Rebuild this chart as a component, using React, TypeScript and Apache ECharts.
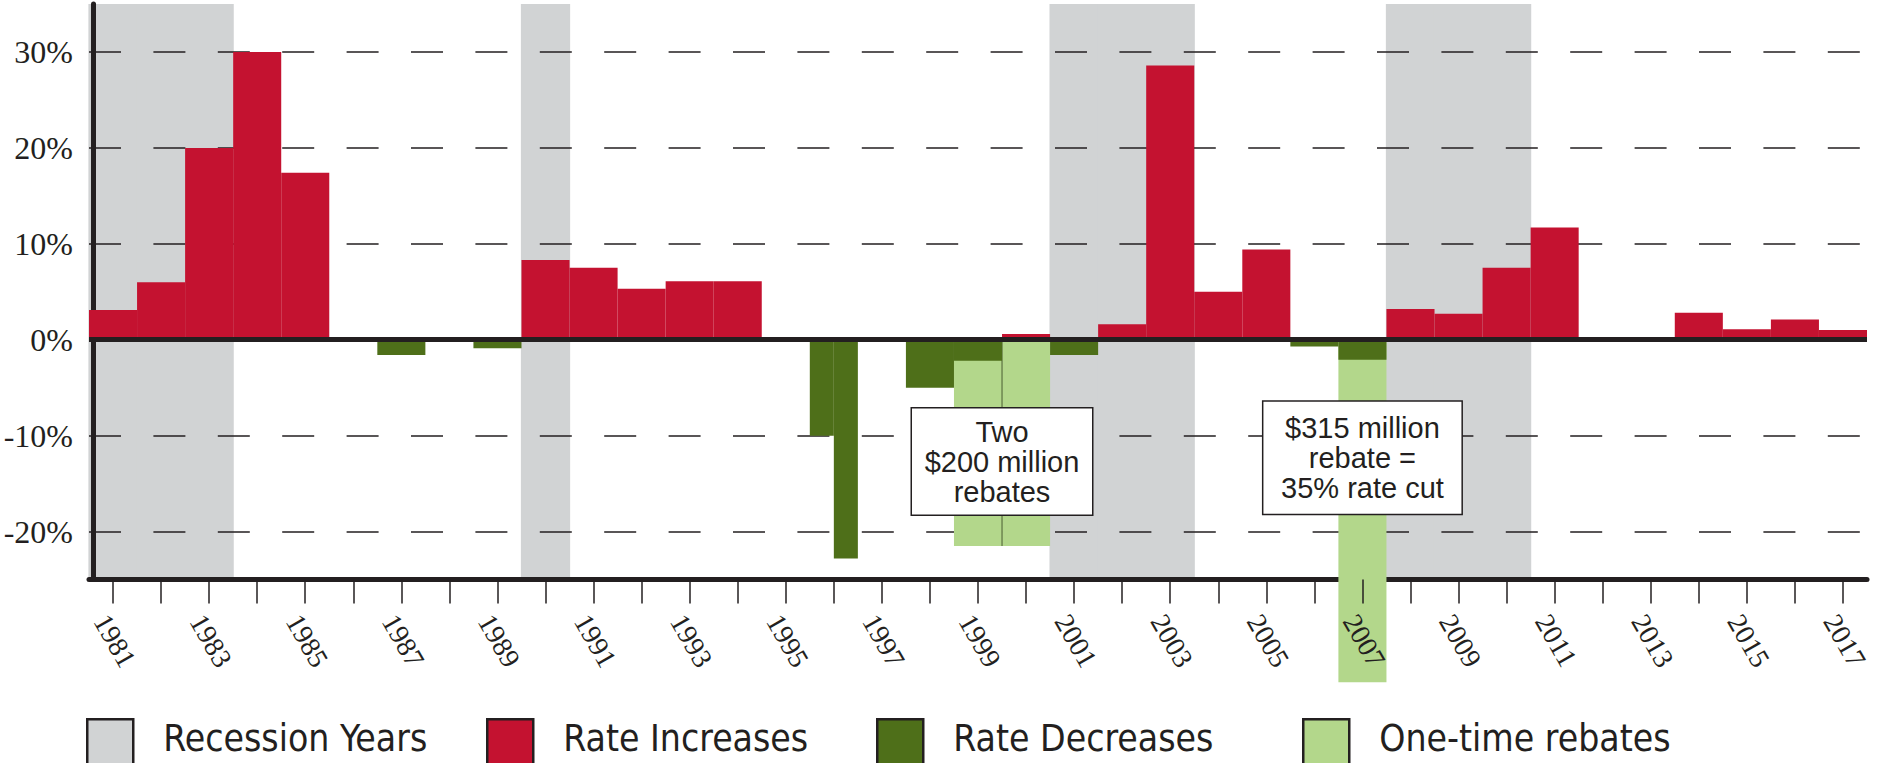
import React, { useEffect, useRef } from 'react';
import * as echarts from 'echarts';

// ---------- data ----------
const years = [
  '1981', '1982', '1983', '1984', '1985', '1986', '1987', '1988', '1989', '1990',
  '1991', '1992', '1993', '1994', '1995', '1996', '1997', '1998', '1999', '2000',
  '2001', '2002', '2003', '2004', '2005', '2006', '2007', '2008', '2009', '2010',
  '2011', '2012', '2013', '2014', '2015', '2016', '2017',
];

// Rate increases (%) per year, null = none
const rateIncreases = [
  3.1, 6.0, 20.0, 30.0, 17.4, null, null, null, null, 8.3,
  7.5, 5.3, 6.1, 6.1, null, null, null, null, null, 0.6,
  null, 1.6, 28.6, 5.0, 9.4, null, null, 3.2, 2.7, 7.5,
  11.7, null, null, 2.8, 1.1, 2.1, 1.0,
];

// Rate decreases (%); period: FY = whole year, H1/H2 = first/second half
const decreaseYears = ['1987', '1989', '1996', '1996', '1998', '1999', '2001', '2006', '2007'];
const decreaseValues = [-1.6, -0.9, -10.0, -22.8, -5.0, -2.2, -1.6, -0.7, -2.1];
const decreasePeriods = ['FY', 'FY', 'H1', 'H2', 'FY', 'FY', 'FY', 'FY', 'FY'];

// One-time rebates (%)
const rebateYears = ['1999', '2000', '2007'];
const rebateValues = [-21.5, -21.5, -35.7];

// Recession years
const recessionYears = ['1981', '1982', '1983', '1990', '2001', '2002', '2003', '2008', '2009', '2010'];

// Annotations
const noteTwoRebates = 'Two\n$200 million\nrebates';
const noteRebate2007 = '$315 million\nrebate =\n35% rate cut';

const legendNames = ['Recession Years', 'Rate Increases', 'Rate Decreases', 'One-time rebates'];

// ---------- styles ----------
const INK = '#231f20';
const RED = '#c41230';
const DARK_GREEN = '#4e6f19';
const LIGHT_GREEN = '#b3d78b';
const GRAY = '#d1d3d4';
const SERIF = '"Liberation Serif", "Times New Roman", serif';
const SANS = '"Liberation Sans", Arial, sans-serif';
const SANS_LEGEND = '"DejaVu Sans Condensed", "DejaVu Sans", sans-serif';

function rectBetween(api: any, idx: number, v: number, part: string) {
  const w = api.size([1, 0])[0];
  const p0 = api.coord([idx, 0]);
  const p1 = api.coord([idx, v]);
  let x = p0[0] - w / 2;
  let width = w;
  if (part === 'H1') width = w / 2;
  if (part === 'H2') {
    x = p0[0];
    width = w / 2;
  }
  return { x, y: Math.min(p0[1], p1[1]), width, height: Math.abs(p1[1] - p0[1]) };
}

export default function App() {
  const ref = useRef<HTMLDivElement>(null);

  useEffect(() => {
    if (!ref.current) return;
    const chart = echarts.init(ref.current, null, { renderer: 'svg' });

    const legendLefts = [86, 486, 876, 1302];

    const option: any = {
      animation: false,
      backgroundColor: '#ffffff',
      grid: {
        left: 89,
        right: 15,
        top: 4,
        bottom: 183.5,
        containLabel: false,
        outerBoundsMode: 'none',
      },
      xAxis: [
        {
          type: 'category',
          data: years,
          position: 'bottom',
          boundaryGap: true,
          axisLine: { show: true, onZero: false, lineStyle: { color: INK, width: 5 } },
          axisTick: { show: false },
          axisLabel: { show: false },
          splitLine: { show: false },
          z: 0,
        },
        {
          type: 'category',
          data: years,
          position: 'bottom',
          boundaryGap: true,
          axisLine: { show: false, onZero: false },
          axisTick: {
            show: true,
            alignWithLabel: true,
            interval: 0,
            length: 24,
            lineStyle: { color: INK, width: 1.5 },
          },
          axisLabel: {
            interval: 1,
            rotate: -60,
            margin: 30,
            align: 'left',
            verticalAlign: 'top',
            fontFamily: SERIF,
            fontSize: 28,
            color: INK,
            hideOverlap: false,
          },
          splitLine: { show: false },
          z: 10,
        },
      ],
      yAxis: {
        type: 'value',
        min: -25,
        max: 35,
        splitNumber: 6,
        offset: -4,
        axisLine: { show: true, lineStyle: { color: INK, width: 5 } },
        axisTick: { show: false },
        axisLabel: {
          fontFamily: SERIF,
          fontSize: 32,
          color: INK,
          margin: 20,
          showMinLabel: false,
          showMaxLabel: false,
          formatter: (v: number) => (v % 10 === 0 ? `${v}%` : ''),
        },
        splitLine: {
          show: true,
          showMinLine: false,
          showMaxLine: false,
          lineStyle: { color: INK, width: 1.5, type: [32, 32.4] },
        },
      },
      legend: legendNames.map((name, i) => ({
        show: true,
        data: [name],
        left: legendLefts[i],
        top: 718,
        orient: 'horizontal',
        itemWidth: 46,
        itemHeight: 48,
        itemGap: 0,
        padding: 0,
        selectedMode: false,
        icon: 'rect',
        itemStyle: { borderColor: INK, borderWidth: 2.5 },
        formatter: '{t|{name}}',
        textStyle: {
          rich: {
            t: {
              fontFamily: SANS_LEGEND,
              fontSize: 37,
              color: INK,
              padding: [0, 0, 10, 25],
            },
          },
        },
      })),
      series: [
        {
          name: 'Recession Years',
          type: 'custom',
          xAxisIndex: 0,
          z: -1,
          silent: true,
          itemStyle: { color: GRAY },
          data: recessionYears.map((y) => [y]),
          encode: { x: 0 },
          renderItem: (params: any, api: any) => {
            const idx = api.value(0);
            const w = api.size([1, 0])[0];
            const cx = api.coord([idx, 0])[0];
            const cs = params.coordSys;
            return {
              type: 'rect',
              shape: { x: cx - w / 2 - 0.6, y: cs.y, width: w + 1.2, height: cs.height },
              style: { fill: GRAY },
            };
          },
        },
        {
          name: 'Rate Increases',
          type: 'bar',
          xAxisIndex: 0,
          data: rateIncreases,
          barWidth: '100%',
          itemStyle: { color: RED },
          z: 2,
          markLine: {
            silent: true,
            symbol: ['none', 'none'],
            label: { show: false },
            lineStyle: { color: INK, width: 5, type: 'solid' },
            data: [{ yAxis: 0 }],
          },
          markPoint: {
            silent: true,
            symbol: 'rect',
            symbolSize: 1,
            itemStyle: { color: 'rgba(0,0,0,0)' },
            label: {
              show: true,
              position: 'inside',
              fontFamily: SANS,
              fontSize: 29,
              lineHeight: 30,
              color: INK,
              backgroundColor: '#ffffff',
              borderColor: INK,
              borderWidth: 1.5,
              align: 'center',
              verticalAlign: 'middle',
            },
            data: [
              {
                coord: ['1999', -12.7],
                label: { formatter: noteTwoRebates, offset: [24, 0], width: 180, padding: [8, 0, 8, 0] },
              },
              {
                coord: ['2007', -12.3],
                label: { formatter: noteRebate2007, width: 198, padding: [11, 0, 11, 0] },
              },
            ],
          },
        },
        {
          name: 'One-time rebates',
          type: 'custom',
          xAxisIndex: 0,
          clip: false,
          z: 2,
          itemStyle: { color: LIGHT_GREEN },
          data: rebateYears.map((y, i) => [y, rebateValues[i]]),
          encode: { x: 0, y: 1 },
          renderItem: (params: any, api: any) => {
            const idx = api.value(0);
            const v = api.value(1);
            const r = rectBetween(api, idx, v, 'FY');
            const children: any[] = [
              { type: 'rect', shape: r, style: { fill: LIGHT_GREEN } },
            ];
            const prevYear = years[idx - 1];
            if (prevYear && rebateYears.indexOf(prevYear) >= 0) {
              children.push({
                type: 'line',
                shape: { x1: r.x, y1: r.y, x2: r.x, y2: r.y + r.height },
                style: { stroke: '#5b7040', lineWidth: 1.2 },
              });
            }
            return { type: 'group', children };
          },
        },
        {
          name: 'Rate Decreases',
          type: 'custom',
          xAxisIndex: 0,
          z: 3,
          itemStyle: { color: DARK_GREEN },
          data: decreaseYears.map((y, i) => [y, decreaseValues[i]]),
          encode: { x: 0, y: 1 },
          renderItem: (params: any, api: any) => {
            const idx = api.value(0);
            const v = api.value(1);
            const r = rectBetween(api, idx, v, decreasePeriods[params.dataIndex]);
            return { type: 'rect', shape: r, style: { fill: DARK_GREEN } };
          },
        },
      ],
    };

    chart.setOption(option);
    return () => {
      chart.dispose();
    };
  }, []);

  return (
    <div
      ref={ref}
      style={{ position: 'fixed', left: 0, top: 0, width: 1882, height: 763, background: '#fff' }}
    />
  );
}
